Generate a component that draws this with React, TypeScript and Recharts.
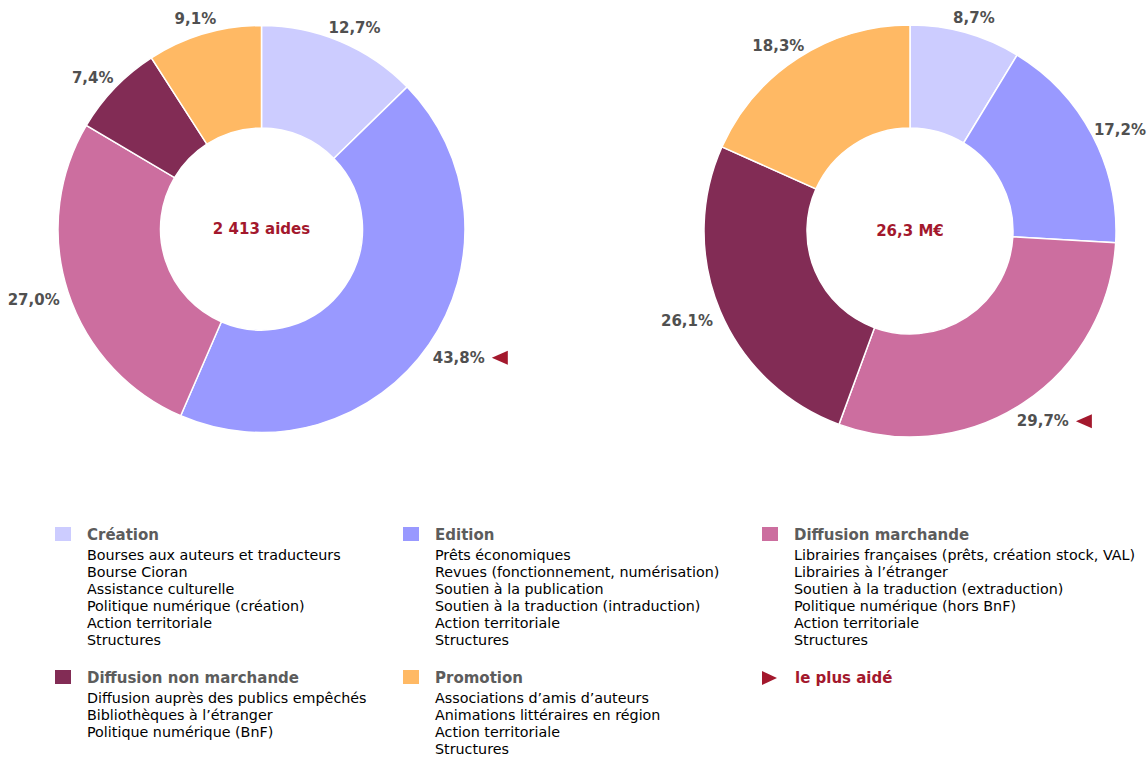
import React from 'react';
import { PieChart, Pie, Cell } from 'recharts';

const categories = ['Création', 'Edition', 'Diffusion marchande', 'Diffusion non marchande', 'Promotion'];
const aidesShares = [12.7, 43.8, 27.0, 7.4, 9.1];
const montantShares = [8.7, 17.2, 29.7, 26.1, 18.3];
const centerLabels = ['2 413 aides', '26,3 M€'];
const colors = ['#CCCCFF', '#9999FF', '#CC6E9F', '#822C55', '#FFB964'];
const legendDetails = [
  ['Bourses aux auteurs et traducteurs', 'Bourse Cioran', 'Assistance culturelle', 'Politique numérique (création)', 'Action territoriale', 'Structures'],
  ['Prêts économiques', 'Revues (fonctionnement, numérisation)', 'Soutien à la publication', 'Soutien à la traduction (intraduction)', 'Action territoriale', 'Structures'],
  ['Librairies françaises (prêts, création stock, VAL)', 'Librairies à l’étranger', 'Soutien à la traduction (extraduction)', 'Politique numérique (hors BnF)', 'Action territoriale', 'Structures'],
  ['Diffusion auprès des publics empêchés', 'Bibliothèques à l’étranger', 'Politique numérique (BnF)'],
  ['Associations d’amis d’auteurs', 'Animations littéraires en région', 'Action territoriale', 'Structures'],
];
const highlightLabel = 'le plus aidé';

const FONT = '"DejaVu Sans", Verdana, sans-serif';
const CHART_W = 1147;
const LABEL_FS = 15;
const LABEL_COLOR = '#505050';
const RED = '#A3182D';
const RAD = Math.PI / 180;

const aidesData = categories.map((name, i) => ({ name, value: aidesShares[i] }));
const montantData = categories.map((name, i) => ({ name, value: montantShares[i] }));

function fmt(v: number) {
  return v.toFixed(1).replace('.', ',') + '%';
}

function textWidth(s: string) {
  let w = 0;
  for (const ch of s) {
    if (/[0-9]/.test(ch)) w += 0.696;
    else if (ch === ',') w += 0.38;
    else if (ch === '%') w += 1.002;
    else w += 0.6;
  }
  return w * LABEL_FS;
}

function makeLabel(values: number[], centerText: string) {
  const maxVal = Math.max(...values);
  return (props: any) => {
    const { cx, cy, midAngle, outerRadius, value, index } = props;
    const ux = Math.cos(-midAngle * RAD);
    const uy = Math.sin(-midAngle * RAD);
    const text = fmt(value);
    const w = textWidth(text);
    const h = 16;
    const r = outerRadius + 10;
    let x = cx + r * ux + (w / 2) * ux;
    x = Math.min(x, CHART_W - w / 2 - 1);
    const y = cy + r * uy + (h / 2) * uy + 3;
    const isMax = value === maxVal;
    const tx = x + w / 2 + 7;
    return (
      <g>
        {index === 0 && (
          <text
            x={cx}
            y={cy}
            textAnchor="middle"
            dominantBaseline="central"
            fill={RED}
            fontFamily={FONT}
            fontSize={15}
            fontWeight="bold"
          >
            {centerText}
          </text>
        )}
        <text
          x={x}
          y={y}
          textAnchor="middle"
          dominantBaseline="central"
          fill={LABEL_COLOR}
          fontFamily={FONT}
          fontSize={LABEL_FS}
          fontWeight="bold"
        >
          {text}
        </text>
        {isMax && (
          <polygon
            points={`${tx},${y} ${tx + 16},${y - 7} ${tx + 16},${y + 7}`}
            fill={RED}
          />
        )}
      </g>
    );
  };
}

function LegendGroup({ left, top, color, title, items }: any) {
  return (
    <div style={{ position: 'absolute', left, top }}>
      <div style={{ position: 'absolute', left: 0, top: 2, width: 16, height: 14, background: color }} />
      <div
        style={{
          position: 'absolute',
          left: 32,
          top: 0,
          whiteSpace: 'nowrap',
          fontWeight: 'bold',
          fontSize: 15,
          lineHeight: '20px',
          color: '#5c5c5c',
        }}
      >
        {title}
      </div>
      <div style={{ position: 'absolute', left: 32, top: 21.5, whiteSpace: 'nowrap', fontSize: 14.3, lineHeight: '17px', color: '#000' }}>
        {items.map((it: string, i: number) => (
          <div key={i}>{it}</div>
        ))}
      </div>
    </div>
  );
}

export default function App() {
  const colX = [55, 403, 762];
  const rowY = [525, 668];
  return (
    <div style={{ position: 'absolute', left: 0, top: 0, width: CHART_W, height: 758, background: '#fff', fontFamily: FONT, overflow: 'hidden' }}>
      <PieChart width={CHART_W} height={470} margin={{ top: 0, right: 0, bottom: 0, left: 0 }}>
        <Pie
          data={aidesData}
          dataKey="value"
          cx={261.5}
          cy={229}
          innerRadius={101}
          outerRadius={203.5}
          startAngle={90}
          endAngle={-270}
          stroke="#ffffff"
          strokeWidth={1.5}
          labelLine={false}
          label={makeLabel(aidesShares, centerLabels[0])}
          isAnimationActive={false}
        >
          {aidesData.map((d, i) => (
            <Cell key={d.name} fill={colors[i]} />
          ))}
        </Pie>
        <Pie
          data={montantData}
          dataKey="value"
          cx={910}
          cy={231}
          innerRadius={103}
          outerRadius={206}
          startAngle={90}
          endAngle={-270}
          stroke="#ffffff"
          strokeWidth={1.5}
          labelLine={false}
          label={makeLabel(montantShares, centerLabels[1])}
          isAnimationActive={false}
        >
          {montantData.map((d, i) => (
            <Cell key={d.name} fill={colors[i]} />
          ))}
        </Pie>
      </PieChart>
      <LegendGroup left={colX[0]} top={rowY[0]} color={colors[0]} title={categories[0]} items={legendDetails[0]} />
      <LegendGroup left={colX[1]} top={rowY[0]} color={colors[1]} title={categories[1]} items={legendDetails[1]} />
      <LegendGroup left={colX[2]} top={rowY[0]} color={colors[2]} title={categories[2]} items={legendDetails[2]} />
      <LegendGroup left={colX[0]} top={rowY[1]} color={colors[3]} title={categories[3]} items={legendDetails[3]} />
      <LegendGroup left={colX[1]} top={rowY[1]} color={colors[4]} title={categories[4]} items={legendDetails[4]} />
      <div style={{ position: 'absolute', left: colX[2], top: rowY[1] }}>
        <svg width={16} height={16} style={{ position: 'absolute', left: 0, top: 3 }}>
          <polygon points="0,0 15,7 0,14" fill={RED} />
        </svg>
        <div style={{ position: 'absolute', left: 33, top: 0, whiteSpace: 'nowrap', fontWeight: 'bold', fontSize: 15, lineHeight: '20px', color: RED }}>
          {highlightLabel}
        </div>
      </div>
    </div>
  );
}
